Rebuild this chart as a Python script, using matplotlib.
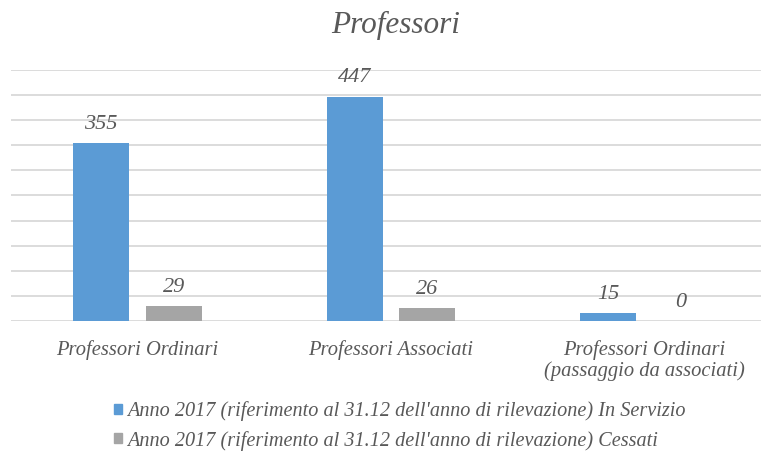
import matplotlib
matplotlib.use("Agg")
import matplotlib.pyplot as plt
from matplotlib.patches import Patch
import numpy as np

categories = ["Professori Ordinari", "Professori Associati", "Professori Ordinari\n(passaggio da associati)"]
in_servizio = [355, 447, 15]
cessati = [29, 26, 0]
series_labels = ["Anno 2017 (riferimento al 31.12 dell'anno di rilevazione) In Servizio",
                 "Anno 2017 (riferimento al 31.12 dell'anno di rilevazione) Cessati"]
title = "Professori"

blue = "#5B9BD5"
gray = "#A5A5A5"
txt = "#595959"
font = dict(family="Liberation Serif", style="italic")

W, H = 761, 457
fig = plt.figure(figsize=(W / 100, H / 100), dpi=100)
left_px, right_px, top_px, bot_px = 11, 771, 70, 321
ax = fig.add_axes([left_px / W, 1 - bot_px / H, (right_px - left_px) / W, (bot_px - top_px) / H])

x = np.arange(len(categories))
bw = 0.221
off = 0.144
b1 = ax.bar(x - off, in_servizio, bw, color=blue, zorder=3)
b2 = ax.bar(x + off, cessati, bw, color=gray, zorder=3)

for bars, vals in ((b1, in_servizio), (b2, cessati)):
    for r, v in zip(bars, vals):
        ax.annotate(str(v), (r.get_x() + r.get_width() / 2, v), xytext=(0, 13.5),
                    textcoords="offset points", ha="center", va="center",
                    fontsize=16, color=txt, **font)

ax.set_xlim(-0.5, 2.5)
ax.set_ylim(0, 500)
ax.set_yticks(np.arange(0, 501, 50))
ax.yaxis.grid(True, color="#D9D9D9", linewidth=1.3, zorder=0)
ax.tick_params(axis="y", left=False, labelleft=False)
ax.tick_params(axis="x", bottom=False, pad=10)
ax.set_xticks(x)
ax.set_xticklabels(categories, fontsize=14.8, color=txt, linespacing=1.1, **font)
for s in ax.spines.values():
    s.set_visible(False)

fig.text(396 / W, 1 - 25 / H, title, ha="center", va="center", fontsize=22.5, color=txt, **font)

handles = [Patch(color=blue), Patch(color=gray)]
leg = fig.legend(handles, series_labels, loc="upper left", bbox_to_anchor=(114 / W, 1 - 401 / H),
                 frameon=False, handlelength=0.4, handleheight=0.4, handletextpad=0.25,
                 labelspacing=0.48, borderaxespad=0, borderpad=0,
                 prop=dict(family="Liberation Serif", style="italic", size=14.6))
for t in leg.get_texts():
    t.set_color(txt)

fig.savefig("out.png", dpi=100)
